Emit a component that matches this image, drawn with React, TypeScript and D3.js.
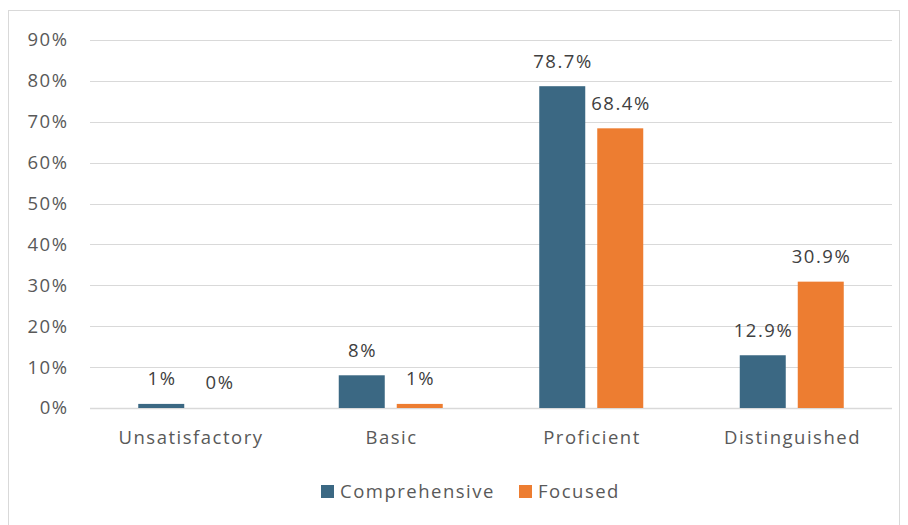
import React from "react";
import * as d3 from "d3";

const categories = ["Unsatisfactory", "Basic", "Proficient", "Distinguished"];
const comprehensive = [1, 8, 78.7, 12.9];
const focused = [0, 1, 68.4, 30.9];
const compLabels = ["1%", "8%", "78.7%", "12.9%"];
const focLabels = ["0%", "1%", "68.4%", "30.9%"];
const yTicks = [0, 10, 20, 30, 40, 50, 60, 70, 80, 90];
const seriesNames = ["Comprehensive", "Focused"];
const colors = ["#3B6883", "#ED7D31"];

export default function App() {
  const W = 908, H = 525;
  const left = 90, right = 892, top = 40, bottom = 408;
  const x = d3.scaleBand().domain(categories).range([left, right]);
  const y = d3.scaleLinear().domain([0, 90]).range([bottom, top]);
  const barW = 46, gap = 12;
  const font = "'Open Sans', sans-serif";
  const fs = 18.5;
  const ls = 1.5;
  const series = [comprehensive, focused];
  const labels = [compLabels, focLabels];
  return (
    <svg width={W} height={H} style={{ position: "absolute", left: 0, top: 0 }} fontFamily={font} letterSpacing={ls}>
      <rect x={0} y={0} width={W} height={H} fill="#fff" />
      <rect x={8.5} y={10.5} width={891} height={530} fill="none" stroke="#d9d9d9" strokeWidth={1} />
      {yTicks.map((t) => (
        <g key={t}>
          <line x1={left} x2={right} y1={Math.round(y(t)) + 0.5} y2={Math.round(y(t)) + 0.5} stroke="#d9d9d9" strokeWidth={t === 0 ? 1.5 : 1} />
          <text x={67 + ls} y={y(t)} dy="0.35em" textAnchor="end" fontSize={fs} fill="#595959">{t}%</text>
        </g>
      ))}
      {categories.map((c, i) => {
        const cx = x(c)! + x.bandwidth() / 2;
        return (
          <g key={c}>
            {series.map((s, j) => {
              const bx = j === 0 ? cx - gap / 2 - barW : cx + gap / 2;
              const v = s[i];
              return (
                <g key={j}>
                  {v > 0 && <rect x={bx} y={y(v)} width={barW} height={bottom - y(v)} fill={colors[j]} />}
                  <text x={bx + barW / 2 + ls / 2} y={y(v) - 25} dy="0.35em" textAnchor="middle" fontSize={fs} fill="#404040">{labels[j][i]}</text>
                </g>
              );
            })}
            <text x={cx + ls / 2} y={438} dy="0.35em" textAnchor="middle" fontSize={fs} fill="#595959">{c}</text>
          </g>
        );
      })}
      <g>
        <rect x={321} y={485} width={13} height={13} fill={colors[0]} />
        <text x={340} y={491.5} dy="0.35em" fontSize={fs} fill="#595959">{seriesNames[0]}</text>
        <rect x={519} y={485} width={13} height={13} fill={colors[1]} />
        <text x={538} y={491.5} dy="0.35em" fontSize={fs} fill="#595959">{seriesNames[1]}</text>
      </g>
    </svg>
  );
}
